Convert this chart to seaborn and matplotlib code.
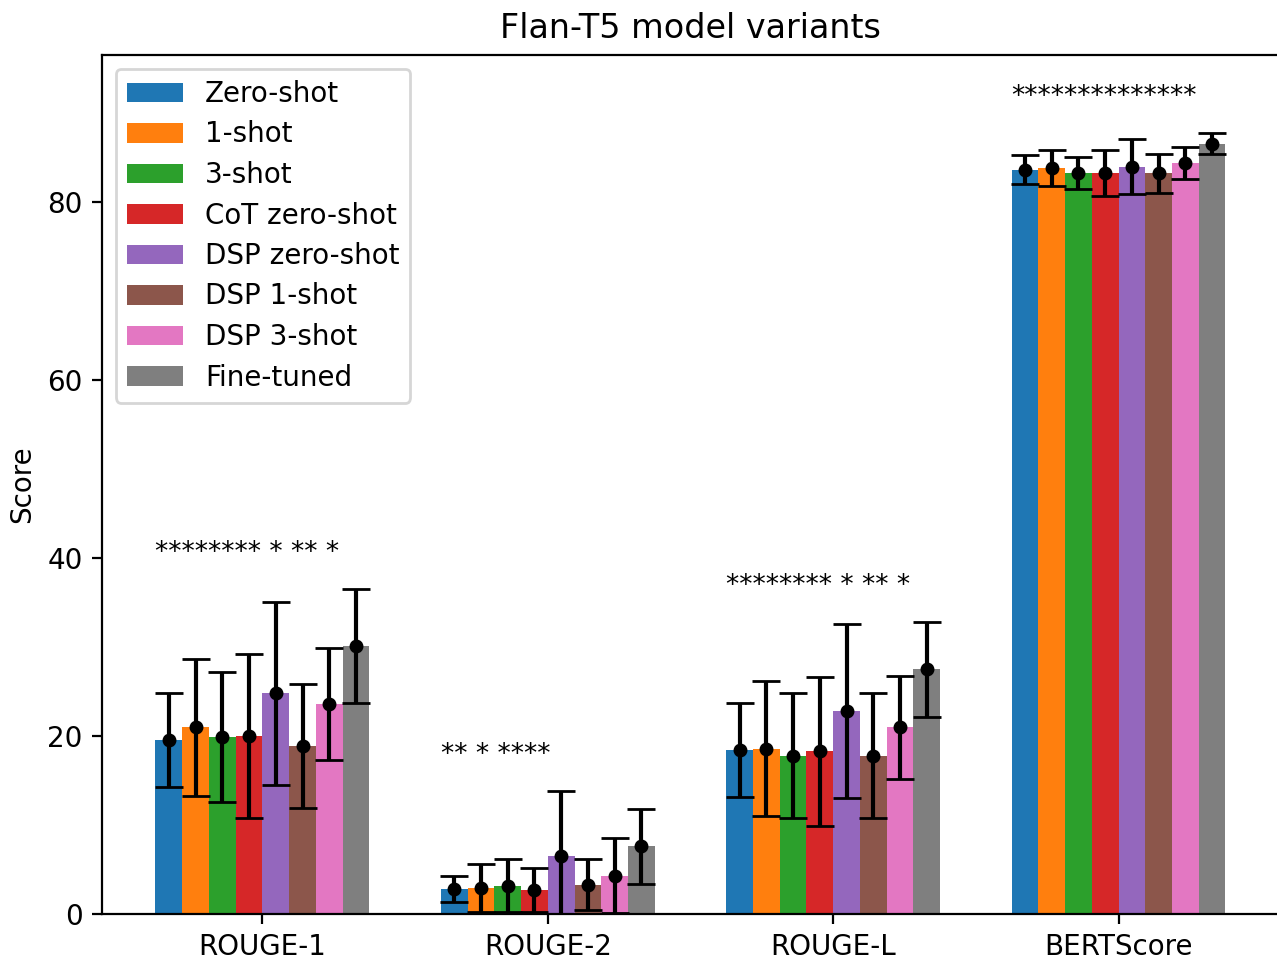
import pandas as pd
import matplotlib
matplotlib.use("Agg")
import matplotlib.pyplot as plt
import seaborn as sns

# 指标与模型
metrics = ["ROUGE-1", "ROUGE-2", "ROUGE-L", "BERTScore"]
models = ["Zero-shot", "1-shot", "3-shot", "CoT zero-shot",
          "DSP zero-shot", "DSP 1-shot", "DSP 3-shot", "Fine-tuned"]

# 平均分（每个模型对应 4 个指标）
zero_shot = [19.6, 2.8, 18.4, 83.7]
one_shot = [21.0, 2.9, 18.6, 83.9]
three_shot = [19.9, 3.2, 17.8, 83.3]
cot_zero_shot = [20.0, 2.7, 18.3, 83.3]
dsp_zero_shot = [24.8, 6.5, 22.8, 84.0]
dsp_one_shot = [18.9, 3.3, 17.8, 83.3]
dsp_three_shot = [23.6, 4.3, 21.0, 84.4]
fine_tuned = [30.1, 7.6, 27.5, 86.6]

# 标准差
zero_shot_err = [5.3, 1.5, 5.3, 1.6]
one_shot_err = [7.7, 2.7, 7.6, 2.0]
three_shot_err = [7.3, 3.0, 7.0, 1.8]
cot_zero_shot_err = [9.2, 2.5, 8.4, 2.6]
dsp_zero_shot_err = [10.3, 7.3, 9.8, 3.1]
dsp_one_shot_err = [7.0, 2.9, 7.0, 2.2]
dsp_three_shot_err = [6.3, 4.2, 5.8, 1.8]
fine_tuned_err = [6.4, 4.2, 5.3, 1.2]

# 显著性标记
stars = ["******** * ** *", "** * ****", "******** * ** *", "**************"]

means = [zero_shot, one_shot, three_shot, cot_zero_shot,
         dsp_zero_shot, dsp_one_shot, dsp_three_shot, fine_tuned]
errs = [zero_shot_err, one_shot_err, three_shot_err, cot_zero_shot_err,
        dsp_zero_shot_err, dsp_one_shot_err, dsp_three_shot_err, fine_tuned_err]

rows = []
for m, vals, es in zip(models, means, errs):
    for metric, v, e in zip(metrics, vals, es):
        rows.append({"Metric": metric, "Model": m, "Score": v, "Err": e})
df = pd.DataFrame(rows)

fig = plt.figure(figsize=(1277 / 200, 959 / 200), dpi=200)
ax = fig.add_axes([102 / 1277, 45 / 959, 1177 / 1277, 859 / 959])

sns.barplot(data=df, x="Metric", y="Score", hue="Model", order=metrics,
            hue_order=models, palette="tab10", saturation=1, width=0.75,
            errorbar=None, linewidth=0, ax=ax)

# 误差棒
for cont, m in zip(ax.containers, models):
    sub = df[df["Model"] == m].set_index("Metric").loc[metrics]
    xs = [p.get_x() + p.get_width() / 2 for p in cont.patches]
    ax.errorbar(xs, sub["Score"].values, yerr=sub["Err"].values, fmt="o",
                color="black", capsize=5, markersize=4)

# 星号
first = ax.containers[0].patches
for i, metric in enumerate(metrics):
    sub = df[df["Metric"] == metric]
    top = (sub["Score"] + sub["Err"]).max()
    ax.text(first[i].get_x(), top + 2.6, stars[i], ha="left", va="bottom", fontsize=9.5)

upper = (df["Score"] + df["Err"]).max()
ax.set_ylim(0, upper * 1.1)
ax.autoscale(enable=True, axis="x")
ax.margins(x=0.05)
ax.autoscale_view()

ax.set_xlabel("")
ax.set_ylabel("Score")
ax.set_title("Flan-T5 model variants")
sns.move_legend(ax, "upper left", title=None, labelspacing=0.45)

plt.savefig("out.png", dpi=200)
